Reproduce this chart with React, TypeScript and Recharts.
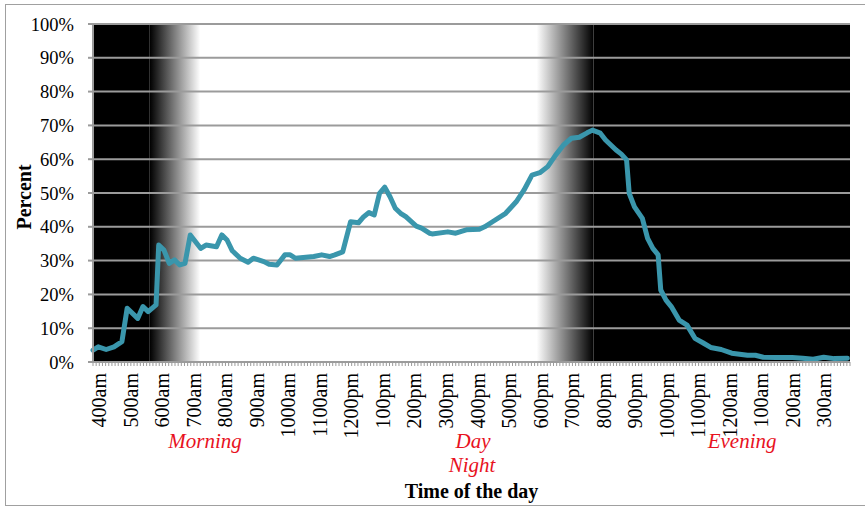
import { LineChart, Line, XAxis, YAxis, ReferenceArea, ReferenceLine, Label } from 'recharts';

// minutes after 4:00am
const TIMES = [
  0, 10, 25, 40, 55, 65, 85, 95, 105, 120, 125, 135, 145, 155, 165, 175, 185, 195, 205, 215,
  235, 245, 255, 265, 280, 295, 305, 325, 335, 350, 365, 375, 385, 420, 435, 450, 460, 475, 490, 505,
  515, 525, 535, 545, 555, 565, 575, 585, 595, 615, 625, 640, 645, 675, 690, 710, 735, 745, 760, 785,
  805, 820, 835, 850, 865, 880, 895, 910, 925, 940, 950, 965, 975, 995, 1005, 1015, 1020, 1030, 1045, 1055,
  1065, 1075, 1080, 1090, 1100, 1115, 1130, 1145, 1160, 1175, 1195, 1215, 1245, 1260, 1275, 1300, 1330, 1350, 1370, 1390,
  1410, 1435,
];

const PERCENT = [
  3.5, 4.5, 3.7, 4.5, 6.0, 15.9, 12.9, 16.4, 14.9, 16.9, 34.6, 33.1, 29.2, 30.2, 28.7, 29.2, 37.6, 35.6, 33.6, 34.6,
  34.1, 37.6, 36.1, 32.9, 30.7, 29.5, 30.7, 29.7, 28.9, 28.7, 31.7, 31.7, 30.7, 31.2, 31.7, 31.2, 31.7, 32.6, 41.5, 41.2,
  43.0, 44.2, 43.5, 49.9, 51.7, 48.9, 45.5, 44.0, 43.0, 40.2, 39.6, 38.1, 37.9, 38.5, 38.1, 39.1, 39.3, 40.0, 41.5, 44.0,
  47.4, 50.9, 55.3, 56.0, 57.8, 61.2, 64.2, 66.2, 66.5, 67.8, 68.6, 67.7, 65.7, 62.7, 61.5, 59.8, 49.9, 45.9, 42.5, 36.6,
  33.6, 31.7, 21.3, 18.3, 16.4, 12.4, 10.9, 7.0, 5.7, 4.3, 3.7, 2.6, 2.0, 2.0, 1.4, 1.3, 1.3, 1.1, 0.8, 1.4,
  1.0, 1.1,
];

const HOUR_LABELS = [
  '400am', '500am', '600am', '700am', '800am', '900am', '1000am', '1100am', '1200pm', '100pm', '200pm', '300pm',
  '400pm', '500pm', '600pm', '700pm', '800pm', '900pm', '1000pm', '1100pm', '1200am', '100am', '200am', '300am',
];

const Y_TICKS = [0, 10, 20, 30, 40, 50, 60, 70, 80, 90, 100];

// dark / light periods, minutes after 4:00am
const NIGHT_END = 108;
const DAWN_END = 204;
const DUSK_START = 844;
const DUSK_END = 952;

// period names and the hour (after 4:00am) they sit under
const PERIODS = [
  { text: 'Morning', hour: 3.55, row: 0 },
  { text: 'Day', hour: 12.05, row: 0 },
  { text: 'Night', hour: 12.02, row: 1 },
  { text: 'Evening', hour: 20.58, row: 0 },
];

const data = TIMES.map((t, i) => ({ t, v: PERCENT[i] }));
const minorTicks = Array.from({ length: 241 }, (_, i) => i * 6);

const FONT = '"Liberation Serif", "DejaVu Serif", serif';
const GRID = '#9b9b9b';

function HourTick(props: any) {
  const { x, y, payload } = props;
  const m = payload.value;
  if (m % 60 !== 0 || m >= 1440) return null;
  const lx = x + 13;
  const ly = y + 7;
  return (
    <text
      x={lx}
      y={ly}
      transform={`rotate(-90, ${lx}, ${ly})`}
      textAnchor="end"
      fontFamily={FONT}
      fontSize={20}
      fill="#000"
    >
      {HOUR_LABELS[m / 60]}
    </text>
  );
}

function XTitle(props: any) {
  const { x, y, width } = props.viewBox;
  return (
    <g fontFamily={FONT}>
      {PERIODS.map((p) => (
        <text
          key={p.text}
          x={x + (p.hour / 24) * width}
          y={y + 86 + p.row * 24}
          textAnchor="middle"
          fontStyle="italic"
          fontSize={21}
          fill="#e8121e"
        >
          {p.text}
        </text>
      ))}
      <text x={x + width / 2} y={y + 136} textAnchor="middle" fontWeight="bold" fontSize={20} fill="#000">
        Time of the day
      </text>
    </g>
  );
}

function YTitle(props: any) {
  const { x, y, height } = props.viewBox;
  const cx = x + 31;
  const cy = y + height / 2 + 4;
  return (
    <text
      x={cx}
      y={cy}
      transform={`rotate(-90, ${cx}, ${cy})`}
      textAnchor="middle"
      fontFamily={FONT}
      fontWeight="bold"
      fontSize={20}
      fill="#000"
    >
      Percent
    </text>
  );
}

export default function App() {
  return (
    <div
      style={{
        position: 'absolute',
        left: 0,
        top: 0,
        width: 865,
        height: 507,
        background: '#fff',
        overflow: 'hidden',
      }}
    >
      <div
        style={{
          position: 'absolute',
          left: 5,
          top: 4,
          width: 880,
          height: 500,
          border: '1.5px solid #a0a0a0',
        }}
      />
      <LineChart
        width={865}
        height={507}
        data={data}
        margin={{ top: 24, right: 15, bottom: 0, left: 0 }}
        style={{ position: 'absolute', left: 0, top: 0 }}
      >
        <defs>
          <linearGradient id="dawn" x1="0" y1="0" x2="1" y2="0">
            <stop offset="0%" stopColor="#000" />
            <stop offset="100%" stopColor="#fff" />
          </linearGradient>
          <linearGradient id="dusk" x1="0" y1="0" x2="1" y2="0">
            <stop offset="0%" stopColor="#fff" />
            <stop offset="100%" stopColor="#000" />
          </linearGradient>
        </defs>
        <XAxis
          dataKey="t"
          type="number"
          domain={[0, 1440]}
          ticks={minorTicks}
          interval={0}
          tick={<HourTick />}
          tickSize={4}
          tickMargin={0}
          tickLine={{ stroke: GRID, strokeWidth: 1 }}
          axisLine={{ stroke: GRID, strokeWidth: 2 }}
          height={145}
        >
          <Label content={<XTitle />} />
        </XAxis>
        <YAxis
          type="number"
          domain={[0, 100]}
          ticks={Y_TICKS}
          interval={0}
          tickFormatter={(v) => `${v}%`}
          tick={{ fill: '#000', fontFamily: FONT, fontSize: 18.5 }}
          tickSize={5}
          tickMargin={14}
          tickLine={{ stroke: GRID, strokeWidth: 2 }}
          axisLine={{ stroke: GRID, strokeWidth: 2 }}
          width={93}
        >
          <Label content={<YTitle />} />
        </YAxis>
        <ReferenceArea x1={0} x2={NIGHT_END} y1={0} y2={100} fill="#000" fillOpacity={1} stroke="none" />
        <ReferenceArea x1={NIGHT_END} x2={DAWN_END} y1={0} y2={100} fill="url(#dawn)" fillOpacity={1} stroke="none" />
        <ReferenceArea x1={DUSK_START} x2={DUSK_END} y1={0} y2={100} fill="url(#dusk)" fillOpacity={1} stroke="none" />
        <ReferenceArea x1={DUSK_END} x2={1440} y1={0} y2={100} fill="#000" fillOpacity={1} stroke="none" />
        {Y_TICKS.filter((v) => v > 0).map((v) => (
          <ReferenceLine key={v} y={v} stroke={GRID} strokeWidth={2} />
        ))}
        <Line
          type="linear"
          dataKey="v"
          stroke="#3a96ac"
          strokeWidth={5}
          strokeLinejoin="round"
          strokeLinecap="round"
          dot={false}
          activeDot={false}
          isAnimationActive={false}
        />
      </LineChart>
    </div>
  );
}
